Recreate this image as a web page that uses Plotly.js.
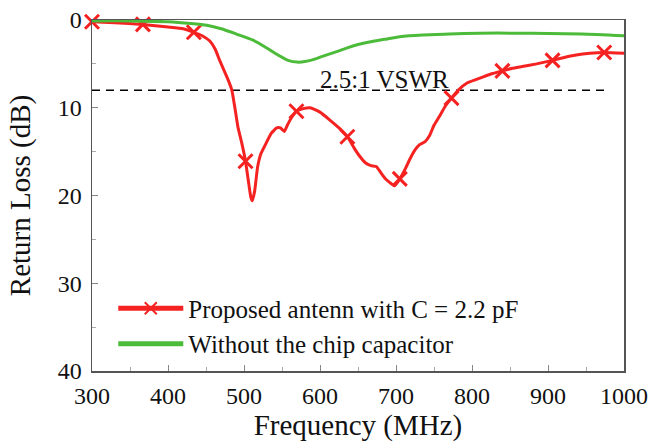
<!DOCTYPE html>
<html>
<head>
<meta charset="utf-8">
<script src="https://cdn.plot.ly/plotly-3.0.1.min.js"></script>
<style>html,body{margin:0;padding:0;background:#fff;}#chart{width:665px;height:445px;}</style>
</head>
<body>
<div id="chart"></div>
<script>
// Proposed antenna with C = 2.2 pF (frequency in MHz, return loss in dB)
var propFreq = [300,330,367,400,420,434,445,455,462,468,474,479,484,488,492,497,502,506,509,511,514,518,522,527,536,543,548,553,557,562,569,578,587,600,613,625,636,645,652,660,667,674,680,686,693,698,705,712,718,725,731,738,744,750,757,765,773,783,793,805,814,827,840,853,866,885,906,920,937,955,974,1000];
var propRL   = [0.2,0.3,0.5,0.8,1.0,1.4,1.8,2.4,3.3,4.6,5.8,6.8,8.0,10.0,12.2,14.0,16.1,18.5,20.2,20.6,19.5,16.7,15.3,14.4,12.9,12.3,12.3,12.7,12.0,11.2,10.4,10.1,10.0,10.5,11.4,12.3,13.3,14.6,15.5,16.3,16.6,16.7,17.4,18.1,18.6,18.9,18.1,17.0,15.9,14.8,14.2,13.9,13.2,12.0,11.0,9.8,8.9,7.9,7.2,6.8,6.5,6.1,5.8,5.5,5.3,5.0,4.6,4.3,4.0,3.8,3.7,3.8];
// frequencies carrying an "x" marker
var propMarkFreq = [300,367,434,502,569,636,705,773,840,906,974];

// Without the chip capacitor
var noCapFreq = [300,350,400,430,451,470,490,512,530,545,558,570,582,595,608,622,635,650,665,685,705,735,770,810,858,900,945,1000];
var noCapRL   = [0.1,0.1,0.2,0.4,0.6,1.0,1.6,2.3,3.2,4.0,4.6,4.8,4.7,4.4,4.0,3.6,3.2,2.8,2.5,2.2,1.9,1.7,1.6,1.5,1.5,1.55,1.6,1.8];

// 2.5:1 VSWR reference level
var vswrFreq = [300, 980];
var vswrRL = [8, 8];
var vswrLabel = '2.5:1 VSWR';
var vswrLabelFreq = 685;

var names = ['Proposed antenn with C = 2.2 pF', 'Without the chip capacitor'];
var xTicks = [300,400,500,600,700,800,900,1000];
var yTicks = [0,10,20,30,40];

var RED = '#f52222', GREEN = '#4cbb3a';
var FONT = 'Liberation Serif, Times New Roman, serif';

var markSizes = propFreq.map(function(f){ return propMarkFreq.indexOf(f) >= 0 ? 14 : 0; });

var traces = [
  {
    x: vswrFreq, y: vswrRL, mode: 'lines', showlegend: false, hoverinfo: 'skip',
    line: {color: '#000', width: 1.6, dash: '8px,6px'}
  },
  {
    x: propFreq, y: propRL, mode: 'lines+markers', name: names[0], legendgroup: 'a',
    cliponaxis: false,
    line: {color: RED, width: 3, shape: 'spline', smoothing: 0.4},
    marker: {symbol: 'x-thin', size: markSizes, opacity: 1, color: RED, line: {color: RED, width: 3}}
  },
  {
    x: noCapFreq, y: noCapRL, mode: 'lines', name: names[1], legendgroup: 'b',
    line: {color: GREEN, width: 3, shape: 'spline', smoothing: 0.6}
  }
];

var axisCommon = {
  showgrid: false, zeroline: false, showline: true, mirror: true,
  linecolor: '#555', linewidth: 1.5,
  ticks: 'inside', ticklen: 6, tickwidth: 1, tickcolor: '#888',
  tickfont: {family: FONT, size: 24, color: '#111'},
  minor: {ticks: 'inside', ticklen: 4, tickcolor: '#aaa', tickwidth: 1}
};

var layout = {
  width: 665, height: 445,
  margin: {l: 92, r: 41, t: 20, b: 74},
  paper_bgcolor: '#fff', plot_bgcolor: '#fff',
  font: {family: FONT, color: '#111'},
  xaxis: Object.assign({}, axisCommon, {
    range: [300, 1000], tickmode: 'array', tickvals: xTicks, ticktext: xTicks.map(String),
    ticklabelstandoff: 3,
    minor: Object.assign({}, axisCommon.minor, {dtick: 50, tick0: 300}),
    title: {text: 'Frequency (MHz)', font: {family: FONT, size: 29, color: '#111'}, standoff: 6}
  }),
  yaxis: Object.assign({}, axisCommon, {
    range: [40, 0], tickmode: 'array', tickvals: yTicks, ticktext: yTicks.map(String),
    ticklabelstandoff: 4,
    minor: Object.assign({}, axisCommon.minor, {dtick: 5, tick0: 0}),
    title: {text: 'Return Loss (dB)', font: {family: FONT, size: 29, color: '#111'}, standoff: 18}
  }),
  showlegend: true,
  legend: {
    x: 0.04, y: 0.013, xanchor: 'left', yanchor: 'bottom',
    bgcolor: 'rgba(0,0,0,0)', borderwidth: 0,
    font: {family: FONT, size: 25, color: '#111'},
    itemwidth: 65, itemsizing: 'constant', traceorder: 'grouped', tracegroupgap: 0
  },
  annotations: [{
    x: vswrLabelFreq, y: vswrRL[0], xref: 'x', yref: 'y', text: vswrLabel, showarrow: false,
    yanchor: 'bottom', yshift: -5, font: {family: FONT, size: 25, color: '#111'}
  }]
};

Plotly.newPlot('chart', traces, layout, {staticPlot: true, displayModeBar: false});
</script>
</body>
</html>
